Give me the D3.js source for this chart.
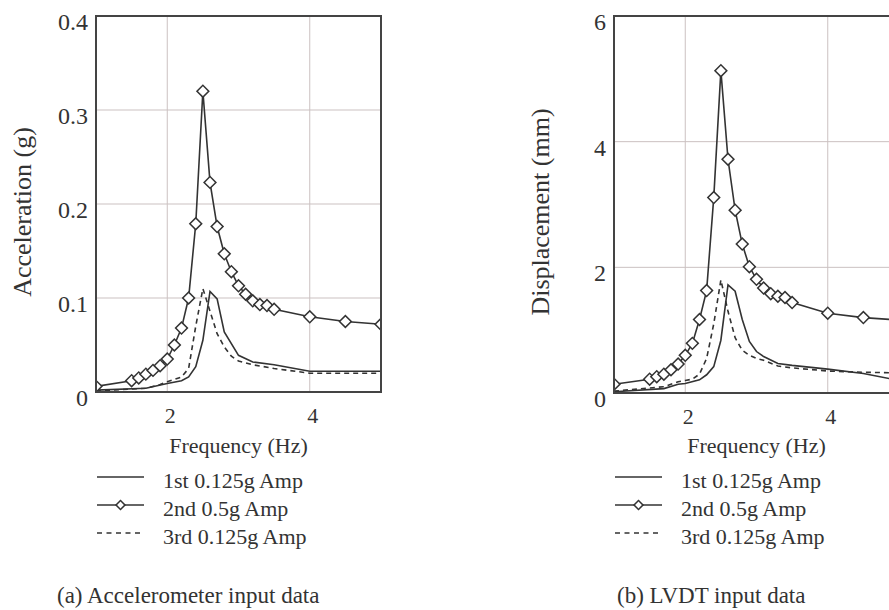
<!DOCTYPE html>
<html>
<head>
<meta charset="utf-8">
<script src="https://cdn.jsdelivr.net/npm/d3@7"></script>
<style>
  body { margin: 0; background: #fff; }
  svg { display: block; }
  svg text { font-family: 'Liberation Serif', 'DejaVu Serif', serif; fill: #333; }
</style>
</head>
<body>
<svg id="chart"></svg>
<script>
// ---- data ----
// (a) accelerometer, acceleration in g
const accFreq1 = [1.0, 1.7, 2.0, 2.2, 2.3, 2.4, 2.5, 2.6, 2.7, 2.8, 3.0, 3.2, 3.5, 4.0, 5.0];
const accAmp1 = [0.002, 0.004, 0.009, 0.012, 0.016, 0.027, 0.055, 0.107, 0.099, 0.064, 0.039, 0.032, 0.029, 0.022, 0.022];

const accFreq2 = [1.0, 1.5, 1.6, 1.7, 1.8, 1.9, 2.0, 2.1, 2.2, 2.3, 2.4, 2.5, 2.6, 2.7, 2.8, 2.9, 3.0, 3.1, 3.2, 3.3, 3.4, 3.5, 4.0, 4.5, 5.0];
const accAmp2 = [0.006, 0.012, 0.015, 0.019, 0.023, 0.028, 0.035, 0.050, 0.068, 0.100, 0.179, 0.320, 0.223, 0.176, 0.147, 0.128, 0.113, 0.104, 0.097, 0.093, 0.092, 0.088, 0.080, 0.075, 0.072];

const accFreq3 = [1.0, 1.7, 1.9, 2.0, 2.2, 2.3, 2.4, 2.5, 2.6, 2.7, 2.8, 2.9, 3.0, 3.2, 3.5, 4.0, 5.0];
const accAmp3 = [0.001, 0.004, 0.008, 0.011, 0.016, 0.025, 0.070, 0.110, 0.086, 0.062, 0.048, 0.038, 0.033, 0.029, 0.025, 0.020, 0.020];

// (b) LVDT, displacement in mm
const lvdtFreq1 = [1.0, 1.7, 1.9, 2.0, 2.2, 2.3, 2.4, 2.5, 2.6, 2.7, 2.8, 2.9, 3.0, 3.1, 3.3, 3.5, 4.0, 4.5, 5.0];
const lvdtAmp1 = [0.02, 0.07, 0.14, 0.15, 0.21, 0.29, 0.42, 0.84, 1.72, 1.62, 1.17, 0.82, 0.66, 0.58, 0.47, 0.44, 0.38, 0.31, 0.20];

const lvdtFreq2 = accFreq2;
const lvdtAmp2 = [0.14, 0.22, 0.26, 0.30, 0.37, 0.46, 0.60, 0.79, 1.17, 1.63, 3.11, 5.13, 3.72, 2.91, 2.37, 2.01, 1.81, 1.67, 1.58, 1.54, 1.52, 1.44, 1.27, 1.20, 1.16];

const lvdtFreq3 = [1.0, 1.7, 1.9, 2.0, 2.1, 2.2, 2.3, 2.4, 2.5, 2.6, 2.7, 2.8, 2.9, 3.0, 3.1, 3.3, 3.5, 4.0, 4.5, 5.0];
const lvdtAmp3 = [0.03, 0.10, 0.18, 0.20, 0.22, 0.30, 0.55, 1.10, 1.80, 1.30, 0.88, 0.68, 0.60, 0.55, 0.52, 0.43, 0.40, 0.35, 0.33, 0.32];

const xTicks = [2, 4];
const accTicks = [0, 0.1, 0.2, 0.3, 0.4];
const lvdtTicks = [0, 2, 4, 6];
const seriesNames = ["1st 0.125g Amp", "2nd 0.5g Amp", "3rd 0.125g Amp"];

// ---- layout ----
const W = 889, H = 610;
const ink = "#333";
const gridColor = "#cbc1c1";
const serif = "Liberation Serif, DejaVu Serif, serif";

const svg = d3.select("#chart").attr("width", W).attr("height", H)
  .attr("font-family", serif);

function zip(xs, ys) {
  return xs.map((x, i) => ({ f: x, v: ys[i] }));
}

function drawPanel(p) {
  const g = svg.append("g").attr("transform", "translate(" + p.left + ",0)");
  const x = d3.scaleLinear().domain([1, 5]).range([0, p.width]);
  const y = d3.scaleLinear().domain(p.yDomain).range([p.bottom, p.top]);

  const clipId = "clip-" + p.id;
  g.append("clipPath").attr("id", clipId)
    .append("rect")
    .attr("x", 0).attr("y", p.top)
    .attr("width", p.width).attr("height", p.bottom - p.top);

  // grid
  g.selectAll(".vgrid").data(xTicks).enter().append("line")
    .attr("x1", d => x(d)).attr("x2", d => x(d))
    .attr("y1", p.top).attr("y2", p.bottom)
    .attr("stroke", gridColor).attr("stroke-width", 1);
  g.selectAll(".hgrid").data(p.yTicks.slice(1, -1)).enter().append("line")
    .attr("x1", 0).attr("x2", p.width)
    .attr("y1", d => y(d)).attr("y2", d => y(d))
    .attr("stroke", gridColor).attr("stroke-width", 1);

  const plot = g.append("g").attr("clip-path", "url(#" + clipId + ")");
  const line = d3.line().x(d => x(d.f)).y(d => y(d.v));

  plot.append("path").datum(zip(p.f1, p.a1))
    .attr("d", line).attr("fill", "none")
    .attr("stroke", ink).attr("stroke-width", 1.6);
  plot.append("path").datum(zip(p.f3, p.a3))
    .attr("d", line).attr("fill", "none")
    .attr("stroke", ink).attr("stroke-width", 1.6)
    .attr("stroke-dasharray", "5,4");
  plot.append("path").datum(zip(p.f2, p.a2))
    .attr("d", line).attr("fill", "none")
    .attr("stroke", ink).attr("stroke-width", 1.6);

  // diamond markers
  const diamond = d3.symbol().type(d3.symbolSquare).size(70);
  plot.selectAll(".mark").data(zip(p.f2, p.a2)).enter().append("path")
    .attr("d", diamond)
    .attr("transform", d => "translate(" + x(d.f) + "," + y(d.v) + ") rotate(45)")
    .attr("fill", "#fff").attr("stroke", ink).attr("stroke-width", 1.5);

  // frame
  g.append("rect")
    .attr("x", 0).attr("y", p.top)
    .attr("width", p.width).attr("height", p.bottom - p.top)
    .attr("fill", "none").attr("stroke", "#444").attr("stroke-width", 2);

  // tick labels
  g.selectAll(".ylab").data(p.yTicks).enter().append("text")
    .attr("x", -8).attr("y", d => y(d) + 14)
    .attr("text-anchor", "end").attr("font-size", 24)
    .text(d => d);
  g.selectAll(".xlab").data(xTicks).enter().append("text")
    .attr("x", d => x(d) + 3).attr("y", p.bottom + 31)
    .attr("text-anchor", "middle").attr("font-size", 22)
    .text(d => d);

  // axis titles
  g.append("text")
    .attr("x", x(3)).attr("y", 453)
    .attr("text-anchor", "middle").attr("font-size", 22)
    .text("Frequency (Hz)");
  g.append("text")
    .attr("transform", "translate(" + (-65) + "," + 212 + ") rotate(-90)")
    .attr("text-anchor", "middle").attr("font-size", 26)
    .text(p.yTitle);

  // legend
  const leg = g.append("g").attr("transform", "translate(1,0)");
  seriesNames.forEach((name, i) => {
    const ly = 477 + i * 28;
    const l = leg.append("line")
      .attr("x1", 0).attr("x2", 47).attr("y1", ly).attr("y2", ly)
      .attr("stroke", ink).attr("stroke-width", 1.6);
    if (i === 2) l.attr("stroke-dasharray", "5,4.5");
    if (i === 1) {
      leg.append("path").attr("d", d3.symbol().type(d3.symbolSquare).size(40))
        .attr("transform", "translate(23.5," + ly + ") rotate(45)")
        .attr("fill", "#fff").attr("stroke", ink).attr("stroke-width", 1.5);
    }
    leg.append("text")
      .attr("x", 66).attr("y", ly + 11)
      .attr("font-size", 22)
      .text(name);
  });

  // caption
  svg.append("text")
    .attr("x", p.captionX).attr("y", 603)
    .attr("font-size", 23)
    .text(p.caption);
}

drawPanel({
  id: "a", left: 96, width: 285, top: 16, bottom: 392,
  yDomain: [0, 0.4], yTicks: accTicks, yTitle: "Acceleration (g)",
  f1: accFreq1, a1: accAmp1, f2: accFreq2, a2: accAmp2, f3: accFreq3, a3: accAmp3,
  caption: "(a) Accelerometer input data", captionX: 57
});

drawPanel({
  id: "b", left: 614, width: 285, top: 16, bottom: 393,
  yDomain: [0, 6], yTicks: lvdtTicks, yTitle: "Displacement (mm)",
  f1: lvdtFreq1, a1: lvdtAmp1, f2: lvdtFreq2, a2: lvdtAmp2, f3: lvdtFreq3, a3: lvdtAmp3,
  caption: "(b) LVDT input data", captionX: 617
});
</script>
</body>
</html>
